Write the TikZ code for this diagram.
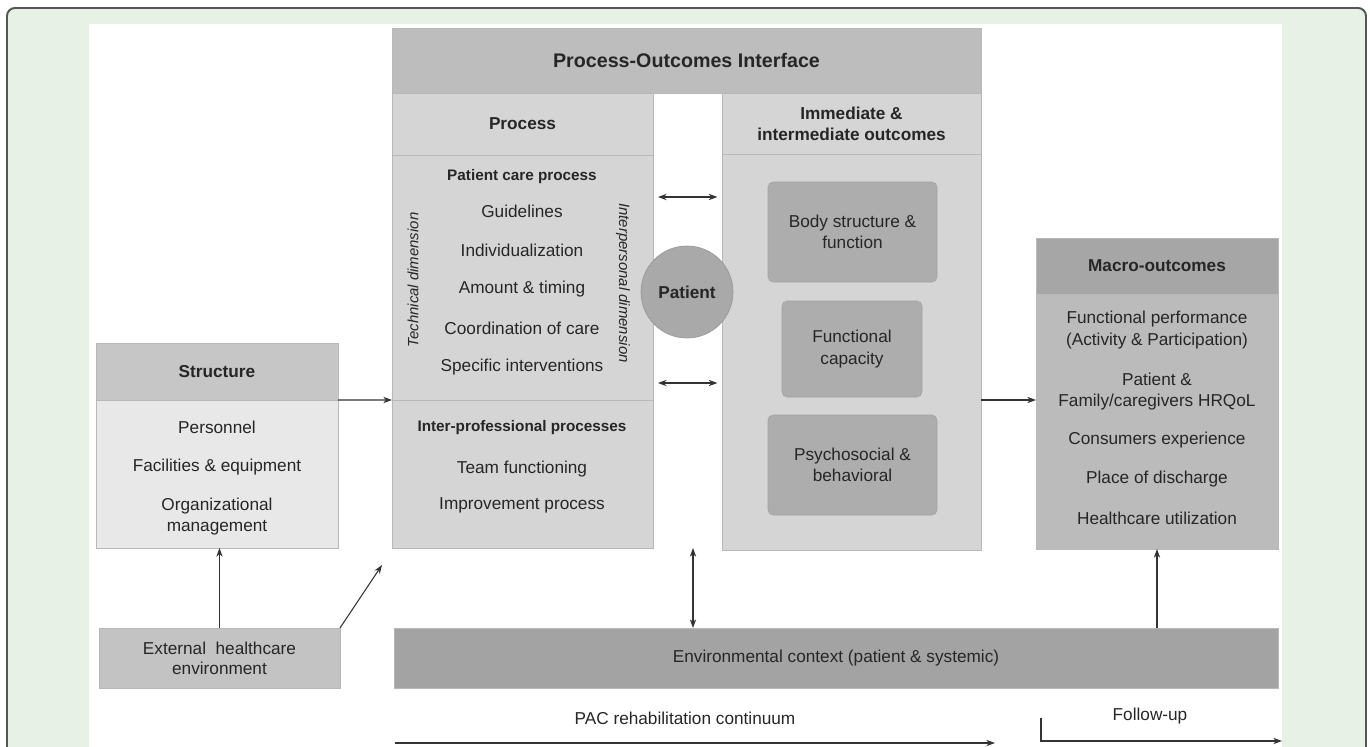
\documentclass[tikz,border=0pt]{standalone}
\usepackage{fontspec}
\setmainfont{Liberation Sans}
\usetikzlibrary{calc,arrows.meta,positioning}

\begin{document}
\begin{tikzpicture}[x=0.02cm, y=-0.02cm, >=Stealth,
    panel/.style={draw=edgeCol, line width=0.4pt, inner sep=0pt, outer sep=0pt, anchor=north west},
    sized/.style 2 args={minimum width=#1*\pxu, minimum height=#2*\pxu},
    inbox/.style={panel, fill=innerCol, draw=innerEdge, rounded corners=3pt},
    txt/.style={text=inkCol, font=\fontsize{9.8}{12.3}\selectfont, align=center, inner sep=1pt},
    hd/.style={txt, font=\fontsize{9.8}{12}\selectfont\bfseries},
    subhd/.style={txt, font=\fontsize{8.7}{10.5}\selectfont\bfseries},
    dimlab/.style={txt, font=\fontsize{8.5}{10}\selectfont\itshape},
    arr/.style={-{Stealth[length=5pt,width=3.6pt]}, line width=0.6pt, draw=lineCol},
    dblarr/.style={{Stealth[length=5pt,width=3.6pt]}-{Stealth[length=5pt,width=3.6pt]}, line width=0.6pt, draw=lineCol}]
    % Parameters (1 unit = 1 pixel of the figure)
    \def\pxu{0.02cm}

    % Colors
    \definecolor{bgCol}{HTML}{E7F1E6}
    \definecolor{frameCol}{HTML}{555555}
    \definecolor{poiCol}{HTML}{BDBDBD}
    \definecolor{procCol}{HTML}{D5D5D5}
    \definecolor{edgeCol}{HTML}{B8B8B8}
    \definecolor{innerCol}{HTML}{ADADAD}
    \definecolor{innerEdge}{HTML}{A4A4A4}
    \definecolor{patCol}{HTML}{A9A9A9}
    \definecolor{patEdge}{HTML}{999999}
    \definecolor{stHdCol}{HTML}{C6C6C6}
    \definecolor{stBdCol}{HTML}{E8E8E8}
    \definecolor{extCol}{HTML}{C3C3C3}
    \definecolor{envCol}{HTML}{A3A3A3}
    \definecolor{macHdCol}{HTML}{A6A6A6}
    \definecolor{macBdCol}{HTML}{BBBBBB}
    \definecolor{inkCol}{HTML}{262626}
    \definecolor{lineCol}{HTML}{333333}

    % 1. Frame and white panel
    \clip (0,0) rectangle (1370,747);
    \draw[frameCol, line width=1.1pt, fill=bgCol, rounded corners=4.5pt] (7,790) -- (7,8) -- (1366,8) -- (1366,790);
    \fill[white] (89,24) rectangle (1282,790);

    % 2. Process-Outcomes Interface header
    \node[panel, fill=poiCol, sized={589}{65}] (poi) at (392,28) {};
    \node[hd, font=\fontsize{11.2}{13}\selectfont\bfseries] (poiTxt) at (poi.center) {Process-Outcomes Interface};

    % 3. Process column
    \node[panel, fill=procCol, sized={261}{62}] (procHd) at (392,93) {};
    \node[hd] (procTxt) at (procHd.center) {Process};
    \node[panel, fill=procCol, sized={261}{245}] (procPc) at (392,155) {};
    \node[panel, fill=procCol, sized={261}{148}] (procIp) at (392,400) {};

    \node[subhd] (pcTitle) at (522,177) {Patient care process};
    \foreach \t/\y [count=\i] in {Guidelines/211, Individualization/250, Amount \& timing/289, Coordination of care/328, Specific interventions/367} {
        \node[txt] (pc\i) at (522,\y) {\t};
    }
    \node[dimlab, rotate=90] (techDim) at (413,280) {Technical dimension};
    \node[dimlab, rotate=-90] (interDim) at (623,283) {Interpersonal dimension};

    \node[subhd] (ipTitle) at (522,428) {Inter-professional processes};
    \node[txt] (ip1) at (522,469) {Team functioning};
    \node[txt] (ip2) at (522,505) {Improvement process};

    % 4. Immediate & intermediate outcomes column
    \node[panel, fill=procCol, sized={259}{61}] (outHd) at (722,93) {};
    \node[hd] (outTxt) at (outHd.center) {Immediate \&\\intermediate outcomes};
    \node[panel, fill=procCol, sized={259}{396}] (outBd) at (722,154) {};

    \node[inbox, sized={169}{100}] (bodyBox) at (768,182) {};
    \node[txt] (bodyTxt) at (bodyBox.center) {Body structure \&\\function};
    \node[inbox, sized={140}{96}] (funcBox) at (782,301) {};
    \node[txt] (funcTxt) at (funcBox.center) {Functional\\capacity};
    \node[inbox, sized={169}{100}] (psyBox) at (768,415) {};
    \node[txt] (psyTxt) at (psyBox.center) {Psychosocial \&\\behavioral};

    % 5. Patient and process-outcome links
    \node[circle, fill=patCol, draw=patEdge, line width=0.4pt, minimum size=92*\pxu, inner sep=0pt, hd] (patient) at (687,292) {Patient};
    \coordinate (linkTop) at (687,197);
    \coordinate (linkBot) at (687,383);
    \draw[dblarr, shorten <=2.8pt, shorten >=2.6pt] (procPc.east |- linkTop) -- (outBd.west |- linkTop);
    \draw[dblarr, shorten <=2.8pt, shorten >=2.6pt] (procPc.east |- linkBot) -- (outBd.west |- linkBot);

    % 6. Structure and external environment
    \node[panel, fill=stHdCol, sized={242}{57}] (stHd) at (96,343) {};
    \node[hd] (stTxt) at (stHd.center) {Structure};
    \node[panel, fill=stBdCol, sized={242}{148}] (stBd) at (96,400) {};
    \node[txt] (st1) at (217,427) {Personnel};
    \node[txt] (st2) at (217,467) {Facilities \& equipment};
    \node[txt] (st3) at (217,516.5) {Organizational\\management};

    \node[panel, fill=extCol, sized={241}{60}] (ext) at (99,628) {};
    \node[txt, font=\fontsize{9.8}{11.4}\selectfont] (extTxt) at (ext.center) {External\ \ healthcare\\environment};

    \draw[arr] (stHd.south east) -- (procIp.north west);
    \draw[arr] (ext.north) -- (ext.north |- stBd.south);
    \coordinate (diagTip) at (382,565);
    \draw[arr] (ext.north east) -- (diagTip);

    % 7. Environmental context
    \node[panel, fill=envCol, sized={884}{60}] (env) at (394,628) {};
    \node[txt] (envTxt) at (env.center) {Environmental context (patient \& systemic)};
    \coordinate (linkMid) at (693,590);
    \draw[dblarr] (procIp.south -| linkMid) -- (env.north -| linkMid);

    % 8. Macro-outcomes
    \node[panel, fill=macHdCol, sized={242}{56}] (macHd) at (1036,238) {};
    \node[hd] (macTxt) at (macHd.center) {Macro-outcomes};
    \node[panel, fill=macBdCol, sized={242}{255}] (macBd) at (1036,294) {};
    \foreach \t/\y [count=\i] in {{Functional performance\\(Activity \& Participation)}/330, {Patient \&\\Family/caregivers HRQoL}/391.5, Consumers experience/440, Place of discharge/479, Healthcare utilization/518} {
        \node[txt] (mac\i) at (1157,\y) {\t};
    }
    \coordinate (linkOut) at (1008,400);
    \draw[arr] (outBd.east |- linkOut) -- (macBd.west |- linkOut);
    \draw[arr] (env.north -| macBd.south) -- (macBd.south);

    % 9. Continuum arrows
    \coordinate (pacStart) at (395,743);
    \coordinate (pacEnd) at (995,743);
    \draw[arr] (pacStart) -- (pacEnd);
    \node[txt] (pacTxt) at (685,718) {PAC rehabilitation continuum};
    \coordinate (fuStart) at (1041,718);
    \coordinate (fuEnd) at (1282,741);
    \draw[arr] (fuStart) |- (fuEnd);
    \node[txt] (fuTxt) at (1150,716) {Follow-up};
\end{tikzpicture}
\end{document}
